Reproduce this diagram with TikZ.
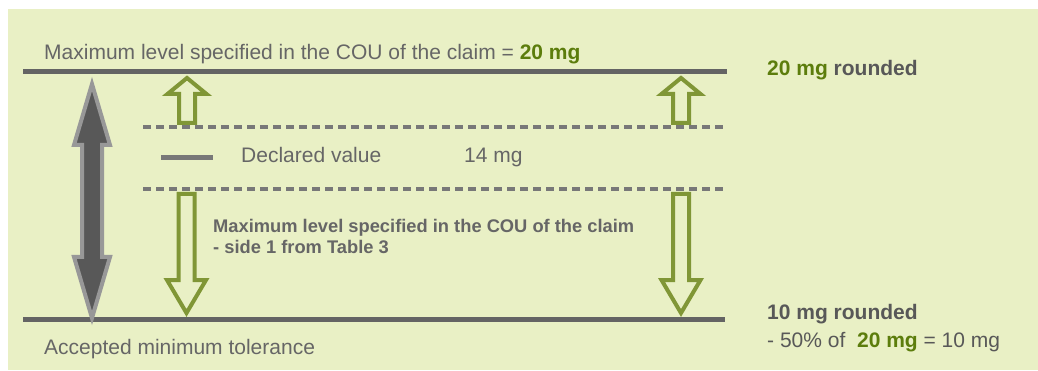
\documentclass[tikz,border=0pt]{standalone}
\usepackage{fontspec}
\setmainfont{Liberation Sans}
\definecolor{bg}{RGB}{233,240,197}
\definecolor{txtgray}{RGB}{102,102,102}
\definecolor{darkgray2}{RGB}{88,88,88}
\definecolor{linegray}{RGB}{100,100,100}
\definecolor{dashgray}{RGB}{120,120,120}
\definecolor{grn}{RGB}{92,125,12}
\definecolor{arrgrn}{RGB}{128,150,54}
\definecolor{biglight}{RGB}{152,152,152}
\definecolor{bigdark}{RGB}{88,88,88}
\begin{document}
\begin{tikzpicture}[x=1pt,y=-1pt,
  lbl/.style={inner sep=0pt, anchor=base west, text=txtgray, font=\fontsize{21}{25}\selectfont},
  boldlbl/.style={inner sep=0pt, anchor=base west, text=darkgray2, font=\fontsize{21}{25}\selectfont\bfseries},
  midlbl/.style={inner sep=0pt, anchor=base west, text=txtgray, font=\fontsize{18.3}{21}\selectfont\bfseries},
  solidline/.style={draw=linegray, line width=5pt},
  dashline/.style={draw=dashgray, line width=4pt, dash pattern=on 8pt off 5pt},
  hollow/.style={draw=arrgrn, fill=bg, line width=4pt},
  bigarrow/.style={draw=biglight, fill=bigdark, line width=4pt}]
\useasboundingbox (0,0) rectangle (1038,371);
\fill[bg] (8,9) rectangle (1038,370);

% level lines
\coordinate (topL) at (23,72);   \coordinate (topR) at (727,72);
\coordinate (botL) at (23,319);  \coordinate (botR) at (725,319);
\coordinate (d1L) at (143,127);  \coordinate (d1R) at (727,127);
\coordinate (d2L) at (143,189);  \coordinate (d2R) at (727,189);
\coordinate (legL) at (161,157.5); \coordinate (legR) at (213,157.5);
\draw[solidline] (topL) -- (topR);
\draw[solidline] (botL) -- (botR);
\draw[dashline] (d1L) -- (d1R);
\draw[dashline] (d2L) -- (d2R);
\draw[draw=dashgray, line width=5pt] (legL) -- (legR);

% big double arrow
\draw[bigarrow] (92,84) -- (110,145) -- (102,145) -- (102,257) -- (110,257) -- (92,318)
  -- (74,257) -- (82,257) -- (82,145) -- (74,145) -- cycle;

% hollow up arrows
\draw[hollow] (179,123) -- (179,94) -- (167.5,94) -- (187,78) -- (206.5,94) -- (195,94) -- (195,123) -- cycle;
\draw[hollow] (673,123) -- (673,94) -- (661.5,94) -- (681,78) -- (700.5,94) -- (689,94) -- (689,123) -- cycle;
% hollow down arrows
\draw[hollow] (178.5,194) -- (194.5,194) -- (194.5,280) -- (206,280) -- (186.5,313) -- (167,280) -- (178.5,280) -- cycle;
\draw[hollow] (673,194) -- (689,194) -- (689,280) -- (700.5,280) -- (681,313) -- (661.5,280) -- (673,280) -- cycle;

% texts
\node[lbl] (maxlvl) at (44,60) {Maximum level specified in the COU of the claim = \textcolor{grn}{\bfseries 20 mg}};
\node[lbl] (accmin) at (44,354) {Accepted minimum tolerance};
\node[lbl] (decl) at (241,163) {Declared value};
\node[lbl] (decv) at (464,163) {14 mg};
\node[midlbl] (mid1) at (213,233) {Maximum level specified in the COU of the claim};
\node[midlbl] (mid2) at (213,254) {- side 1 from Table 3};
\node[boldlbl] (r20) at (767,76) {\textcolor{grn}{20 mg} rounded};
\node[boldlbl] (r10) at (767,319) {10 mg rounded};
\node[lbl, text=darkgray2] (calc) at (767,347) {- 50\% of\ \ \textcolor{grn}{\bfseries 20 mg} = 10 mg};
\end{tikzpicture}
\end{document}
